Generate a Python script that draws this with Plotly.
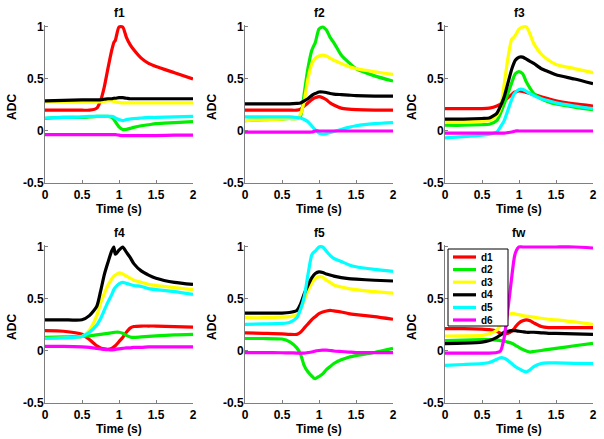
import plotly.graph_objects as go

# ---------------- data ----------------
T = [0, 0.25, 0.5, 0.6, 0.7, 0.75, 0.8, 0.85, 0.9, 0.93, 0.95, 1.0, 1.05, 1.1, 1.15, 1.2, 1.3, 1.4, 1.5, 1.75, 2.0]

series_names = ["d1", "d2", "d3", "d4", "d5", "d6"]
panel_titles = ["f1", "f2", "f3", "f4", "f5", "fw"]

f1_d1 = [0.2, 0.2, 0.2, 0.2, 0.22, 0.29, 0.42, 0.6, 0.77, 0.85, 0.87, 1.0, 1.0, 0.9, 0.83, 0.78, 0.7, 0.65, 0.62, 0.56, 0.5]
f1_d2 = [0.12, 0.13, 0.13, 0.135, 0.14, 0.14, 0.14, 0.14, 0.13, 0.11, 0.09, 0.04, 0.015, 0.015, 0.025, 0.035, 0.05, 0.06, 0.07, 0.08, 0.09]
f1_d3 = [0.28, 0.28, 0.28, 0.28, 0.28, 0.28, 0.285, 0.29, 0.29, 0.285, 0.28, 0.275, 0.27, 0.27, 0.27, 0.27, 0.27, 0.27, 0.27, 0.27, 0.27]
f1_d4 = [0.29, 0.295, 0.3, 0.3, 0.3, 0.3, 0.305, 0.31, 0.31, 0.315, 0.315, 0.32, 0.32, 0.315, 0.31, 0.31, 0.31, 0.31, 0.31, 0.31, 0.31]
f1_d5 = [0.125, 0.13, 0.135, 0.14, 0.14, 0.14, 0.14, 0.14, 0.14, 0.135, 0.125, 0.11, 0.1, 0.11, 0.115, 0.12, 0.125, 0.13, 0.13, 0.135, 0.14]
f1_d6 = [-0.035, -0.035, -0.035, -0.035, -0.035, -0.035, -0.035, -0.035, -0.035, -0.035, -0.035, -0.04, -0.045, -0.045, -0.045, -0.045, -0.045, -0.045, -0.045, -0.04, -0.04]

f2_d1 = [0.2, 0.2, 0.2, 0.2, 0.2, 0.21, 0.24, 0.27, 0.3, 0.315, 0.32, 0.33, 0.32, 0.3, 0.27, 0.25, 0.22, 0.21, 0.205, 0.2, 0.2]
f2_d2 = [0.1, 0.11, 0.115, 0.12, 0.12, 0.14, 0.36, 0.6, 0.77, 0.82, 0.85, 0.98, 1.0, 0.97, 0.9, 0.85, 0.73, 0.66, 0.6, 0.53, 0.48]
f2_d3 = [0.1, 0.11, 0.115, 0.12, 0.12, 0.16, 0.29, 0.5, 0.64, 0.68, 0.7, 0.72, 0.73, 0.72, 0.7, 0.68, 0.65, 0.62, 0.6, 0.57, 0.545]
f2_d4 = [0.26, 0.26, 0.26, 0.26, 0.265, 0.27, 0.29, 0.31, 0.34, 0.355, 0.36, 0.375, 0.375, 0.37, 0.36, 0.355, 0.35, 0.345, 0.34, 0.335, 0.335]
f2_d5 = [0.135, 0.135, 0.135, 0.135, 0.13, 0.125, 0.11, 0.09, 0.05, 0.025, 0.01, -0.02, -0.03, -0.025, -0.015, -0.005, 0.015, 0.035, 0.05, 0.07, 0.08]
f2_d6 = [-0.01, -0.01, -0.01, -0.01, -0.01, -0.01, -0.01, -0.01, -0.01, -0.005, 0.0, 0.0, 0.0, 0.0, 0.0, 0.0, 0.0, 0.0, 0.0, 0.0, 0.0]

f3_d1 = [0.215, 0.215, 0.215, 0.22, 0.24, 0.26, 0.29, 0.32, 0.35, 0.37, 0.375, 0.385, 0.38, 0.37, 0.36, 0.35, 0.33, 0.31, 0.29, 0.26, 0.24]
f3_d2 = [0.055, 0.055, 0.06, 0.065, 0.1, 0.17, 0.26, 0.36, 0.46, 0.52, 0.55, 0.57, 0.55, 0.47, 0.41, 0.36, 0.31, 0.28, 0.26, 0.23, 0.205]
f3_d3 = [0.09, 0.09, 0.095, 0.1, 0.15, 0.22, 0.45, 0.7, 0.88, 0.9, 0.92, 0.98, 1.0, 1.0, 0.93, 0.84, 0.74, 0.68, 0.64, 0.6, 0.56]
f3_d4 = [0.115, 0.115, 0.12, 0.125, 0.17, 0.24, 0.33, 0.46, 0.59, 0.65, 0.68, 0.71, 0.71, 0.69, 0.67, 0.65, 0.6, 0.57, 0.54, 0.5, 0.455]
f3_d5 = [-0.067, -0.055, -0.04, -0.03, -0.01, 0.04, 0.1, 0.2, 0.3, 0.35, 0.37, 0.4, 0.4, 0.38, 0.36, 0.34, 0.31, 0.29, 0.27, 0.24, 0.215]
f3_d6 = [-0.02, -0.02, -0.02, -0.02, -0.02, -0.02, -0.02, -0.015, -0.01, -0.005, 0.0, 0.0, 0.0, 0.0, 0.0, 0.0, 0.0, 0.0, 0.0, 0.0, 0.0]

f4_d1 = [0.195, 0.19, 0.16, 0.11, 0.05, 0.03, 0.02, 0.015, 0.025, 0.04, 0.05, 0.09, 0.13, 0.18, 0.22, 0.235, 0.24, 0.24, 0.24, 0.235, 0.23]
f4_d2 = [0.13, 0.135, 0.14, 0.145, 0.155, 0.16, 0.165, 0.17, 0.175, 0.178, 0.18, 0.18, 0.17, 0.15, 0.135, 0.13, 0.135, 0.14, 0.145, 0.155, 0.16]
f4_d3 = [0.12, 0.125, 0.14, 0.2, 0.34, 0.46, 0.55, 0.63, 0.69, 0.72, 0.73, 0.75, 0.74, 0.72, 0.7, 0.68, 0.66, 0.64, 0.63, 0.61, 0.59]
f4_d4 = [0.3, 0.3, 0.3, 0.34, 0.43, 0.57, 0.73, 0.85, 0.96, 1.0, 0.93, 0.97, 1.0, 0.95, 0.9, 0.84, 0.77, 0.73, 0.7, 0.66, 0.64]
f4_d5 = [0.12, 0.125, 0.14, 0.18, 0.25, 0.31, 0.39, 0.47, 0.54, 0.59, 0.61, 0.645, 0.66, 0.65, 0.64, 0.63, 0.62, 0.6, 0.59, 0.57, 0.545]
f4_d6 = [0.045, 0.045, 0.04, 0.035, 0.025, 0.02, 0.015, 0.012, 0.01, 0.012, 0.015, 0.02, 0.025, 0.03, 0.03, 0.035, 0.035, 0.04, 0.04, 0.04, 0.04]

f5_d1 = [0.175, 0.17, 0.165, 0.16, 0.16, 0.18, 0.22, 0.26, 0.3, 0.32, 0.33, 0.36, 0.375, 0.385, 0.39, 0.385, 0.375, 0.36, 0.35, 0.33, 0.305]
f5_d2 = [0.12, 0.12, 0.115, 0.09, 0.03, -0.03, -0.14, -0.2, -0.24, -0.26, -0.265, -0.245, -0.22, -0.18, -0.15, -0.12, -0.085, -0.06, -0.045, -0.015, 0.025]
f5_d3 = [0.32, 0.32, 0.325, 0.33, 0.345, 0.4, 0.49, 0.58, 0.65, 0.68, 0.695, 0.715, 0.71, 0.68, 0.66, 0.635, 0.615, 0.6, 0.59, 0.57, 0.557]
f5_d4 = [0.365, 0.365, 0.365, 0.37, 0.39, 0.45, 0.55, 0.63, 0.7, 0.73, 0.745, 0.76, 0.755, 0.74, 0.73, 0.72, 0.705, 0.695, 0.69, 0.68, 0.673]
f5_d5 = [0.255, 0.26, 0.265, 0.275, 0.32, 0.4, 0.52, 0.73, 0.92, 0.95, 0.96, 1.0, 1.0, 0.96, 0.92, 0.89, 0.86, 0.83, 0.81, 0.785, 0.765]
f5_d6 = [-0.015, -0.015, -0.017, -0.018, -0.02, -0.02, -0.02, -0.015, -0.01, -0.005, 0.0, 0.005, 0.008, 0.008, 0.005, 0.0, -0.005, -0.01, -0.015, -0.015, -0.015]

fw_d1 = [0.215, 0.215, 0.21, 0.205, 0.19, 0.17, 0.165, 0.17, 0.19, 0.21, 0.23, 0.27, 0.29, 0.3, 0.29, 0.27, 0.235, 0.225, 0.225, 0.225, 0.224]
fw_d2 = [0.1, 0.105, 0.11, 0.11, 0.105, 0.1, 0.095, 0.085, 0.075, 0.065, 0.055, 0.035, 0.015, 0.0, -0.01, -0.005, 0.005, 0.015, 0.025, 0.05, 0.074]
fw_d3 = [0.144, 0.145, 0.15, 0.165, 0.2, 0.25, 0.3, 0.345, 0.36, 0.36, 0.355, 0.35, 0.34, 0.335, 0.33, 0.325, 0.315, 0.305, 0.3, 0.28, 0.256]
fw_d4 = [0.07, 0.075, 0.085, 0.1, 0.13, 0.155, 0.18, 0.19, 0.195, 0.195, 0.195, 0.19, 0.185, 0.18, 0.18, 0.18, 0.175, 0.17, 0.17, 0.165, 0.16]
fw_d5 = [-0.138, -0.13, -0.12, -0.11, -0.08, -0.065, -0.07, -0.09, -0.12, -0.14, -0.15, -0.17, -0.19, -0.2, -0.18, -0.15, -0.12, -0.115, -0.115, -0.12, -0.122]
fw_d6 = [-0.02, -0.02, -0.02, -0.02, -0.015, 0.0, 0.13, 0.4, 0.7, 0.87, 0.94, 1.0, 1.0, 1.0, 1.0, 1.0, 1.0, 1.0, 1.0, 1.0, 0.99]

x_ticks = [0, 0.5, 1, 1.5, 2]
x_tick_labels = ["0", "0.5", "1", "1.5", "2"]
y_ticks = [-0.5, 0, 0.5, 1]
y_tick_labels = ["-0.5", "0", "0.5", "1"]

panels = [
    [f1_d1, f1_d2, f1_d3, f1_d4, f1_d5, f1_d6],
    [f2_d1, f2_d2, f2_d3, f2_d4, f2_d5, f2_d6],
    [f3_d1, f3_d2, f3_d3, f3_d4, f3_d5, f3_d6],
    [f4_d1, f4_d2, f4_d3, f4_d4, f4_d5, f4_d6],
    [f5_d1, f5_d2, f5_d3, f5_d4, f5_d5, f5_d6],
    [fw_d1, fw_d2, fw_d3, fw_d4, fw_d5, fw_d6],
]

# ---------------- styling ----------------
colors = ["#ff0000", "#00ee00", "#ffff00", "#000000", "#00ffff", "#ff00ff"]
FONT = "Liberation Sans, Arial, sans-serif"
W, H = 604, 439

col_px = [(45, 193), (245, 393), (445, 593)]
row_px = [(24.9, 183), (244.9, 403)]  # top (y=1.02), bottom (y=-0.5)

fig = go.Figure()
layout = dict(
    width=W, height=H,
    margin=dict(l=0, r=0, t=0, b=0, autoexpand=False),
    paper_bgcolor="white", plot_bgcolor="white",
    font=dict(family=FONT, size=11, color="black", weight="bold"),
    showlegend=False,
)
annotations = []
shapes = []
for p in range(6):
    r, c = divmod(p, 3)
    k = p + 1
    xa = "x" if k == 1 else f"x{k}"
    ya = "y" if k == 1 else f"y{k}"
    for s in range(6):
        fig.add_trace(go.Scatter(
            x=T, y=panels[p][s], mode="lines", name=series_names[s],
            line=dict(color=colors[s], width=3.2, shape="spline", smoothing=0.6),
            xaxis=xa, yaxis=ya,
        ))
    x0, x1 = col_px[c]
    yt, yb = row_px[r]
    axis_common = dict(
        showgrid=False, zeroline=False, showline=True, linecolor="#7f7f7f", linewidth=1,
        ticks="inside", ticklen=3, tickcolor="#7f7f7f", automargin=False,
        tickfont=dict(family=FONT, size=12, weight="bold"),
    )
    layout["xaxis" if k == 1 else f"xaxis{k}"] = dict(
        domain=[x0 / W, x1 / W], range=[0, 2], anchor=ya,
        tickvals=x_ticks, ticktext=x_tick_labels, ticklabelstandoff=1,
        **axis_common,
    )
    layout["yaxis" if k == 1 else f"yaxis{k}"] = dict(
        domain=[1 - yb / H, 1 - yt / H], range=[-0.5, 1.02], anchor=xa,
        tickvals=y_ticks, ticktext=y_tick_labels, ticklabelstandoff=-2,
        **axis_common,
    )
    # panel title
    annotations.append(dict(
        text=panel_titles[p], xref="paper", yref="paper",
        x=(x0 + x1) / 2 / W, y=1 - (13 if r == 0 else 233) / H,
        xanchor="center", yanchor="middle", showarrow=False,
        font=dict(family=FONT, size=12, weight="bold"),
    ))
    # x axis title
    annotations.append(dict(
        text="Time (s)", xref="paper", yref="paper",
        x=(x0 + x1) / 2 / W, y=1 - (yb + 26) / H,
        xanchor="center", yanchor="middle", showarrow=False,
        font=dict(family=FONT, size=12, weight="bold"),
    ))
    # y axis title
    annotations.append(dict(
        text="ADC", xref="paper", yref="paper", textangle=-90,
        x=(x0 - 33) / W, y=1 - ((yt + yb) / 2 + 3) / H,
        xanchor="center", yanchor="middle", showarrow=False,
        font=dict(family=FONT, size=12, weight="bold"),
    ))

# legend box drawn in the fw panel
lg_left, lg_right, lg_top, lg_bottom = 448, 508, 249, 326
shapes.append(dict(type="rect", xref="paper", yref="paper",
                   x0=lg_left / W, x1=lg_right / W, y0=1 - lg_bottom / H, y1=1 - lg_top / H,
                   line=dict(color="black", width=1), fillcolor="white", layer="above"))
for s in range(6):
    yc = 257 + s * 12.6
    shapes.append(dict(type="line", xref="paper", yref="paper",
                       x0=453 / W, x1=476 / W, y0=1 - yc / H, y1=1 - yc / H,
                       line=dict(color=colors[s], width=3.2), layer="above"))
    annotations.append(dict(
        text=series_names[s], xref="paper", yref="paper",
        x=479 / W, y=1 - yc / H, xanchor="left", yanchor="middle", showarrow=False,
        font=dict(family=FONT, size=10, weight="bold"),
    ))

layout["annotations"] = annotations
layout["shapes"] = shapes
fig.update_layout(**layout)
fig.write_html(
    "out.html",
    config={"displayModeBar": False},
    post_script="document.body.style.margin='0';document.body.style.padding='0';",
)
